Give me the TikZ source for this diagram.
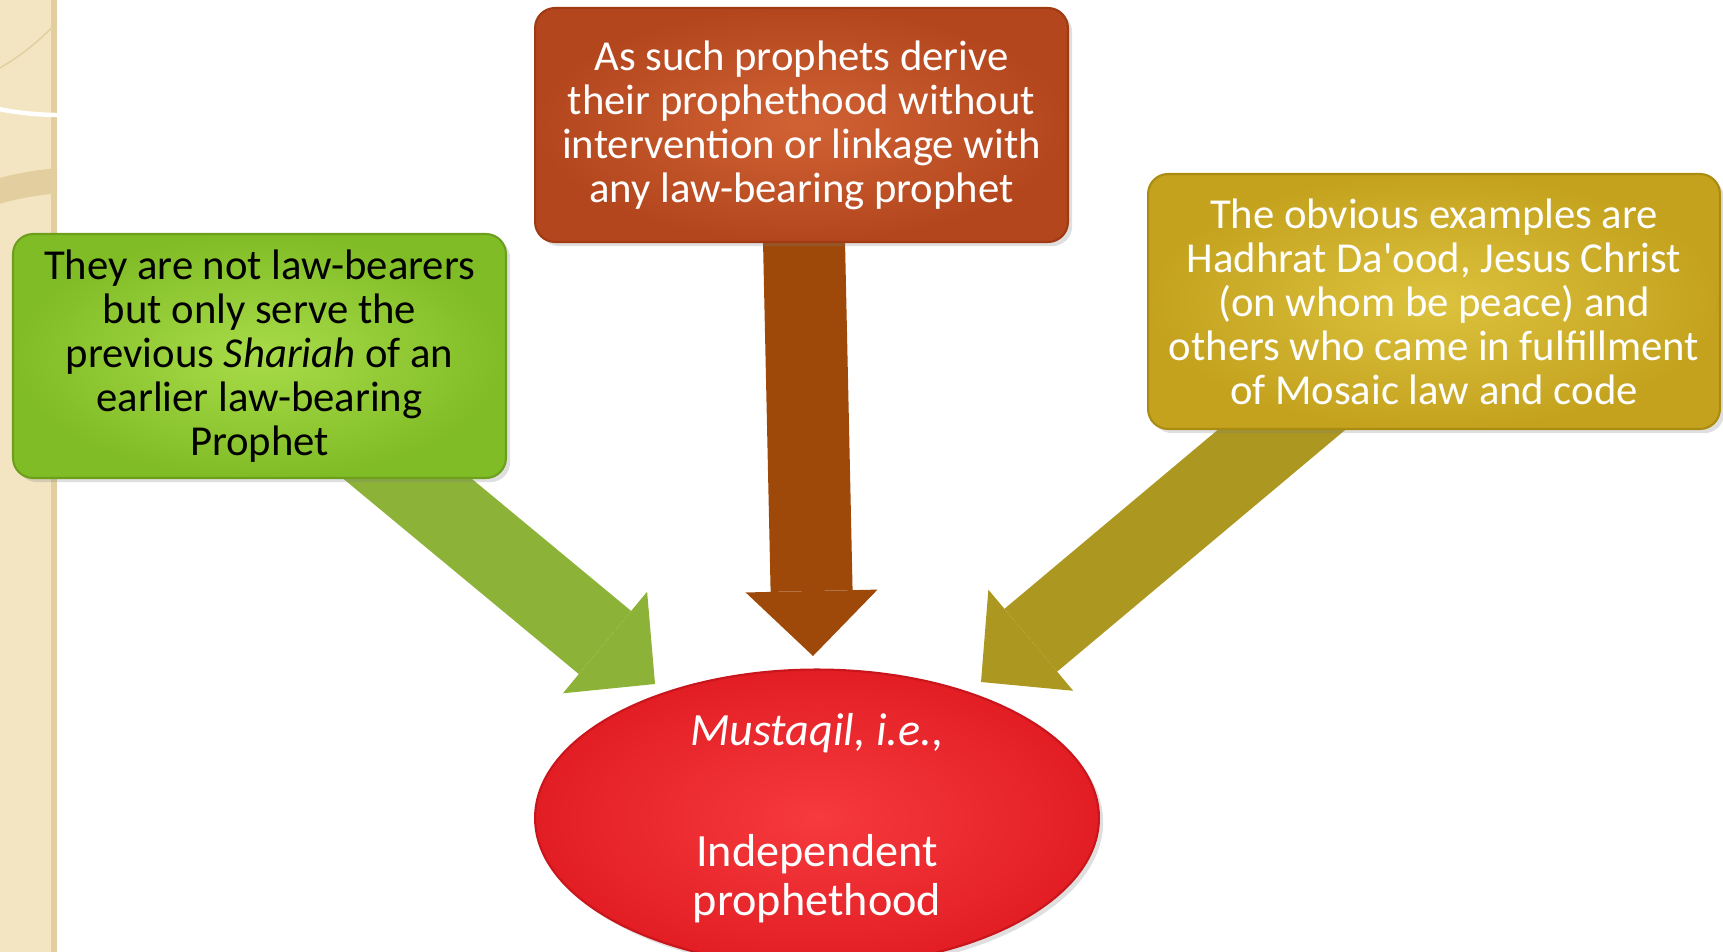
\documentclass[tikz,border=0pt]{standalone}
\usepackage{fontspec}
\setmainfont{Carlito}[Ligatures=TeXOff]
\usepackage{tikz}
\usetikzlibrary{shapes,arrows,arrows.meta,shadows}
\definecolor{boxGRin}{RGB}{168,220,72}
\definecolor{boxGRout}{RGB}{128,188,38}
\definecolor{boxGRline}{RGB}{108,160,28}
\definecolor{boxORin}{RGB}{208,98,52}
\definecolor{boxORout}{RGB}{180,70,30}
\definecolor{boxORline}{RGB}{160,58,18}
\definecolor{boxYEin}{RGB}{220,194,62}
\definecolor{boxYEout}{RGB}{196,162,30}
\definecolor{boxYEline}{RGB}{170,140,18}
\definecolor{ovalRDin}{RGB}{246,58,62}
\definecolor{ovalRDout}{RGB}{226,30,36}
\definecolor{ovalRDline}{RGB}{200,22,28}
\definecolor{arrGR}{RGB}{140,178,55}
\definecolor{arrBR}{RGB}{158,72,10}
\definecolor{arrYE}{RGB}{172,152,32}
\definecolor{stripBG}{RGB}{243,229,193}
\definecolor{stripDK}{RGB}{226,206,158}
\tikzstyle{blockGR} = [rectangle, draw=boxGRline, line width=1.2pt, inner color=boxGRin, outer color=boxGRout, rounded corners=0.4cm, minimum width=9.86cm, minimum height=4.88cm, align=center, text=black, drop shadow={opacity=0.25}]
\tikzstyle{blockOR} = [rectangle, draw=boxORline, line width=1.2pt, inner color=boxORin, outer color=boxORout, rounded corners=0.4cm, minimum width=10.66cm, minimum height=4.68cm, align=center, text=white, drop shadow={opacity=0.25}]
\tikzstyle{blockYE} = [rectangle, draw=boxYEline, line width=1.2pt, inner color=boxYEin, outer color=boxYEout, rounded corners=0.4cm, minimum width=11.44cm, minimum height=5.1cm, align=center, text=white, drop shadow={opacity=0.25}]
\tikzstyle{ovalRD} = [ellipse, draw=ovalRDline, line width=1.2pt, inner color=ovalRDin, outer color=ovalRDout, minimum width=11.28cm, minimum height=5.2cm, inner sep=0pt, align=center, text=white, font=\fontsize{26.3}{28}\selectfont, drop shadow={opacity=0.25}]
\tikzstyle{bigarrow} = [line width=1.64cm, -{Triangle[length=1.3cm, width=2.64cm, line width=0pt]}, shorten <=-1.2cm]
\pgfdeclarelayer{background}
\pgfsetlayers{background,main}

\begin{document}
\begin{tikzpicture}[x=0.02cm, y=-0.02cm,
  % mismo tamano de letra en todas las cajas
  font=\fontsize{24.3}{25}\selectfont
  ]
    \useasboundingbox (0,0) rectangle (1723,952);

    % franja de la plantilla
    \fill [stripBG] (0,0) rectangle (57,952);
    \fill [stripDK] (51,0) rectangle (57,952);
    \begin{scope}
      \clip (0,0) rectangle (57,320);
      \draw [white, line width=2.5pt] (60,-200) circle (315);
      \draw [stripDK, line width=0.5cm] (80,480) circle (300);
      \draw [stripDK, line width=0.8pt] (-120,-140) circle (240);
    \end{scope}

    % nodes
    \node [blockGR] (serve_law) at (259.5,356) {They are not law-bearers\\but only serve the\\previous \textit{Shariah} of an\\earlier law-bearing\\Prophet};
    \node [blockOR] (no_link) at (801.5,125) {As such prophets derive\\their prophethood without\\intervention or linkage with\\any law-bearing prophet};
    \node [blockYE] (examples) at (1434,301.5) {The obvious examples are\\Hadhrat Da'ood, Jesus Christ\\(on whom be peace) and\\others who came in fulfillment\\of Mosaic law and code};
    \node [ovalRD] (mustaqil) at (817,818) {\textit{Mustaqil, i.e.,}\\[41pt]Independent\\prophethood};

    % puntas de las flechas
    \coordinate (tip_left) at (655,684);
    \coordinate (tip_mid) at (813,656);
    \coordinate (tip_right) at (981,682);

    % edges
    \begin{pgfonlayer}{background}
      \path [bigarrow, draw=arrGR] (serve_law) -- (tip_left);
      \path [bigarrow, draw=arrBR] (no_link) -- (tip_mid);
      \path [bigarrow, draw=arrYE] (examples) -- (tip_right);
    \end{pgfonlayer}

\end{tikzpicture}
\end{document}
